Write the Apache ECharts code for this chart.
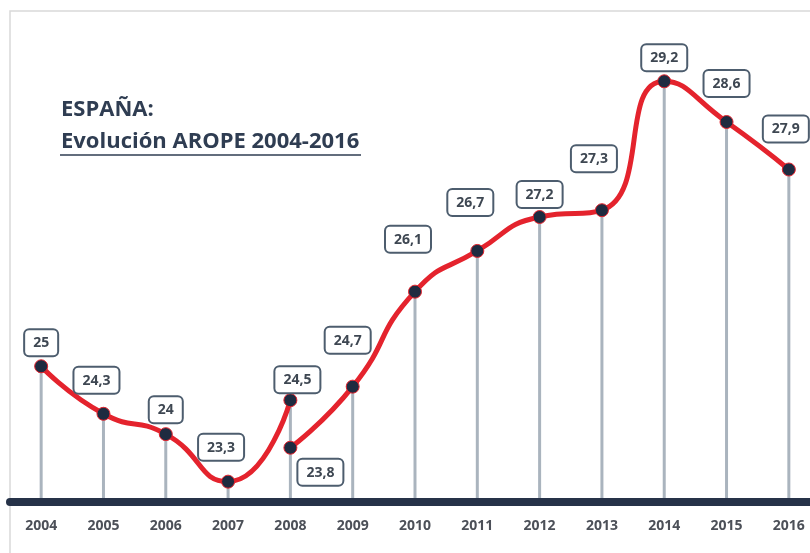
<!DOCTYPE html>
<html>
  <head>
    <meta charset="utf-8" />
    <title>AROPE España</title>
    <script src="https://cdn.jsdelivr.net/npm/echarts@6/dist/echarts.min.js"></script>
    <style>
      html, body { margin: 0; padding: 0; background: #fff; overflow: hidden; }
      /* el gráfico original está recortado por la derecha */
      #main { width: 830px; height: 553px; }
    </style>
  </head>
  <body>
    <div id="main"></div>
    <script type="text/javascript">
      // datos
      let years = ['2004', '2005', '2006', '2007', '2008', '2009', '2010', '2011', '2012', '2013', '2014', '2015', '2016'];
      // serie antigua (hasta 2008) y serie nueva (desde 2008)
      let serieA = [25, 24.3, 24, 23.3, 24.5, '-', '-', '-', '-', '-', '-', '-', '-'];
      let serieB = ['-', '-', '-', '-', 23.8, 24.7, 26.1, 26.7, 27.2, 27.3, 29.2, 28.6, 27.9];

      // ajuste de las etiquetas [dx, dy]
      let offA = [[0, 0], [-7, -10], [0, -1], [-7, -11], [7, 3]];
      let offB = { 4: [30, 48], 5: [-5, -23], 6: [-7, -29], 7: [-7, -25], 8: [0, 1], 9: [-8, -28], 10: [0, 0], 11: [0, -15], 12: [-3, -17] };

      let stems = years.map(function (y, i) {
        let v = [serieA[i], serieB[i]].filter(function (d) { return d !== '-'; });
        return Math.max.apply(null, v);
      });

      function withOffsets(arr, offs) {
        return arr.map(function (v, i) {
          if (v === '-') return v;
          let o = offs[i] || [0, 0];
          return { value: v, label: { offset: o } };
        });
      }

      var myChart = echarts.init(document.getElementById('main'));

      let labelStyle = {
        show: true,
        position: 'top',
        distance: 4,
        formatter: function (p) { return String(p.value).replace('.', ','); },
        color: '#3e4752',
        fontFamily: 'Open Sans',
        fontWeight: 'bold',
        fontSize: 14,
        backgroundColor: '#fff',
        borderColor: '#4d5d6e',
        borderWidth: 2,
        borderRadius: 4,
        padding: [6, 8, 5, 8]
      };

      let lineBase = {
        type: 'line',
        smooth: 0.55,
        symbol: 'circle',
        symbolSize: 13,
        z: 5,
        lineStyle: { color: '#e4232d', width: 5 },
        itemStyle: { color: '#1e2b40', borderColor: '#e4232d', borderWidth: 1 },
        label: labelStyle
      };

      option = {
        animation: false,
        title: {
          text: 'ESPAÑA:',
          subtext: 'Evolución AROPE 2004-2016',
          left: 56,
          top: 94,
          itemGap: 10,
          textStyle: { color: '#2f3d52', fontFamily: 'Open Sans', fontWeight: 'bold', fontSize: 22 },
          subtextStyle: { color: '#2f3d52', fontFamily: 'Open Sans', fontWeight: 'bold', fontSize: 22 }
        },
        graphic: [
          {
            type: 'rect',
            shape: { x: 10, y: 11, width: 840, height: 600 },
            style: { fill: 'none', stroke: '#d9d9d9', lineWidth: 1.5 },
            z: -10
          },
          {
            type: 'line',
            shape: { x1: 60, y1: 155, x2: 361, y2: 155 },
            style: { stroke: '#2f3d52', lineWidth: 1.5 }
          }
        ],
        grid: { left: 10, right: 10, top: 27, bottom: 51 },
        xAxis: {
          type: 'category',
          data: years,
          boundaryGap: true,
          z: 10,
          axisLine: { lineStyle: { color: '#263248', width: 8 } },
          axisTick: { show: false },
          axisLabel: {
            color: '#4c5058',
            fontFamily: 'Open Sans',
            fontWeight: 'bold',
            fontSize: 14,
            margin: 17
          }
        },
        yAxis: {
          type: 'value',
          min: 23,
          max: 30,
          show: false,
          splitLine: { show: false }
        },
        series: [
          {
            type: 'bar',
            data: stems,
            barWidth: 3,
            z: 1,
            itemStyle: { color: '#aab4be' },
            silent: true
          },
          Object.assign({}, lineBase, { data: withOffsets(serieA, offA) }),
          Object.assign({}, lineBase, { data: withOffsets(serieB, offB) })
        ]
      };

      myChart.setOption(option);
    </script>
  </body>
</html>
